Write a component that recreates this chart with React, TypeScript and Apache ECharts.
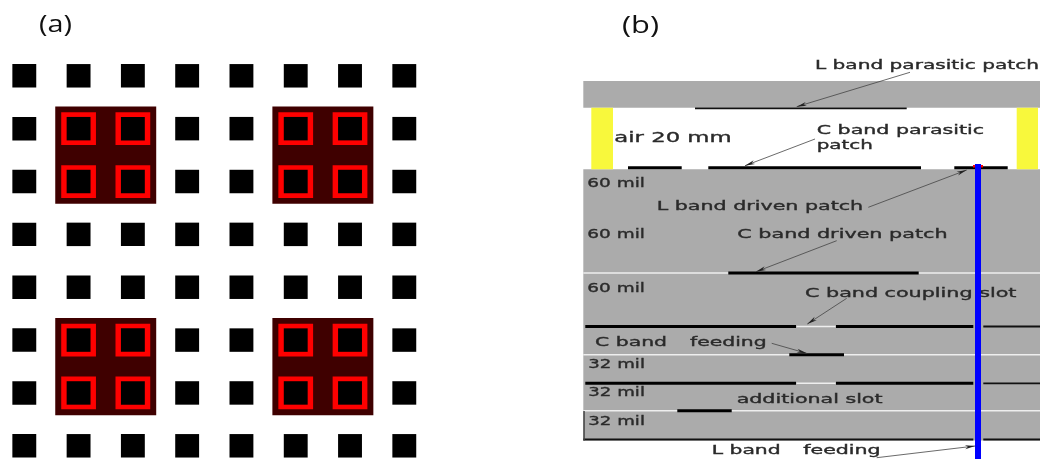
import React, { useEffect, useRef } from "react";
import * as echarts from "echarts";

// Panel (a): unit-cell indices of the periodic array
const columns = [0, 1, 2, 3, 4, 5, 6, 7];
const rows = [0, 1, 2, 3, 4, 5, 6, 7];
// [first column, last column, first row, last row]
const loadedPatches = [
  [1, 2, 1, 2],
  [5, 6, 1, 2],
  [1, 2, 5, 6],
  [5, 6, 5, 6],
];

// Panel (b): stack-up, in diagram units. Rect = [x0, y0, x1, y1]
const dielectricLayers = [
  [583.3, 81, 1040, 107.7],
  [583.3, 169.3, 1040, 440.5],
];
const foamPosts = [
  [591.3, 107.7, 613, 169.3],
  [1016.7, 107.7, 1038, 169.3],
];
// [x0, x1, y]
const interfaceLines = [
  [583.3, 1040, 273],
  [583.3, 1040, 354.7],
  [583.3, 1040, 410.7],
  [796.5, 835.5, 326.5],
  [796.5, 835.5, 383.3],
];
const metalLines = [
  [628, 681.7, 167.7],
  [708.3, 921, 167.7],
  [954.3, 1007.7, 167.7],
  [728.3, 918.7, 273],
  [585.3, 796, 326.5],
  [836, 973.3, 326.5],
  [789.3, 844, 354.7],
  [585.3, 796, 383.3],
  [836, 973.3, 383.3],
  [677.3, 731.7, 410.7],
];
const thinMetalLines = [
  [695, 906.7, 108.3],
  [983.3, 1040, 326.5],
  [983.3, 1040, 383.3],
  [583.3, 973.3, 439.5],
  [983.3, 1040, 439.5],
];
const substrateEdge = [[583.3, 411, 584.8, 440.5]];
const feedSolderDots = [[973, 165, 983, 167.5]];
const feedProbe = [[975, 164, 981, 459]];
// [x0, y0, x1, y1] from the label to the tip
const leaders = [
  [910, 72.3, 796.7, 106.7],
  [815, 139, 745, 165.7],
  [868.3, 207.3, 966.7, 170],
  [836.7, 240.7, 756, 271.7],
  [846.7, 298.3, 807.3, 324],
  [771.7, 343.3, 806.7, 353.3],
  [876.7, 457.7, 975, 446],
];
const labelTexts = [
  "L band parasitic patch",
  "C band parasitic",
  "patch",
  "60 mil",
  "L band driven patch",
  "60 mil",
  "C band driven patch",
  "60 mil",
  "C band coupling slot",
  "C band",
  "feeding",
  "32 mil",
  "32 mil",
  "additional slot",
  "32 mil",
  "L band",
  "feeding",
];
// [x, y, width] of each label above
const labelPlaces = [
  [815, 64.3, 224],
  [816.7, 129.3, 167.6],
  [816.7, 145, 56.3],
  [587.3, 182.7, 57.7],
  [656.7, 205.7, 206.6],
  [587.3, 233.3, 57.7],
  [737.3, 233.3, 210.4],
  [587.3, 287.3, 57.7],
  [805, 292.7, 211.7],
  [595, 341.7, 72],
  [690, 341.7, 76.7],
  [588.3, 363.7, 56.7],
  [588.3, 392.3, 56.7],
  [736.7, 398.7, 146],
  [588.3, 420.7, 56.7],
  [711.7, 450, 69],
  [803.3, 450, 77.4],
];
const largeText = ["air 20 mm"];
const largePlaces = [[614.3, 136.7, 117.4]];
const panelTitles = ["(a)", "(b)"];
const titlePlaces = [
  [39, 23, 33],
  [622, 23, 37],
];

const measure = document.createElement("canvas").getContext("2d")!;

function rectSeries(data: number[][], fill: string, axis = 1): any {
  return {
    type: "custom",
    xAxisIndex: axis,
    yAxisIndex: axis,
    silent: true,
    encode: { x: [0, 2], y: [1, 3] },
    data,
    renderItem: (_: any, api: any) => {
      const a = api.coord([api.value(0), api.value(1)]);
      const b = api.coord([api.value(2), api.value(3)]);
      return {
        type: "rect",
        shape: { x: a[0], y: a[1], width: b[0] - a[0], height: b[1] - a[1] },
        style: { fill },
      };
    },
  };
}

function lineSeries(data: number[][], color: string, thickness: number) {
  return rectSeries(
    data.map((d) => [d[0], d[2] - thickness / 2, d[1], d[2] + thickness / 2]),
    color,
  );
}

function cellRects(half: number, haly: number) {
  const out: number[][] = [];
  for (const r of rows) for (const c of columns) out.push([c - half, r - haly, c + half, r + haly]);
  return out;
}

function ringRects() {
  const out: number[][] = [];
  for (const p of loadedPatches)
    for (const r of [p[2], p[3]])
      for (const c of [p[0], p[1]]) out.push([c - 0.32, r - 0.31, c + 0.32, r + 0.31]);
  return out;
}

function textSeries(texts: string[], places: number[][], font: string, fill: string, strokeWidth: number): any {
  return {
    type: "custom",
    xAxisIndex: 1,
    yAxisIndex: 1,
    silent: true,
    encode: { x: 0, y: 1 },
    data: places,
    renderItem: (params: any, api: any) => {
      const p = api.coord([api.value(0), api.value(1)]);
      const text = texts[params.dataIndex];
      measure.font = font;
      return {
        type: "text",
        x: p[0],
        y: p[1],
        scaleX: api.value(2) / measure.measureText(text).width,
        style: {
          text,
          font,
          fill,
          stroke: strokeWidth ? fill : undefined,
          lineWidth: strokeWidth,
          align: "left",
          verticalAlign: "middle",
        },
      };
    },
  };
}

const arrowSeries: any = {
  type: "custom",
  xAxisIndex: 1,
  yAxisIndex: 1,
  silent: true,
  encode: { x: [0, 2], y: [1, 3] },
  data: leaders,
  renderItem: (_: any, api: any) => {
    const a = api.coord([api.value(0), api.value(1)]);
    const b = api.coord([api.value(2), api.value(3)]);
    const len = Math.hypot(b[0] - a[0], b[1] - a[1]);
    const ux = (b[0] - a[0]) / len;
    const uy = (b[1] - a[1]) / len;
    const bx = b[0] - ux * 10;
    const by = b[1] - uy * 10;
    return {
      type: "group",
      children: [
        {
          type: "line",
          shape: { x1: a[0], y1: a[1], x2: b[0], y2: b[1] },
          style: { stroke: "#444444", lineWidth: 0.8 },
        },
        {
          type: "polygon",
          shape: {
            points: [
              [b[0], b[1]],
              [bx - uy * 2, by + ux * 2],
              [b[0] - ux * 7, b[1] - uy * 7],
              [bx + uy * 2, by - ux * 2],
            ],
          },
          style: { fill: "#222222" },
        },
      ],
    };
  },
};

export default function App() {
  const ref = useRef<HTMLDivElement>(null);
  useEffect(() => {
    document.body.style.margin = "0";
    document.body.style.background = "#ffffff";
    const chart = echarts.init(ref.current!, undefined, { renderer: "svg" });
    const hidden = { type: "value", show: false };
    chart.setOption({
      animation: false,
      backgroundColor: "#ffffff",
      tooltip: { show: false },
      grid: [
        { left: 24.3, top: 75.8, width: 380, height: 370 },
        { left: 0, top: 0, width: 1040, height: 459 },
      ],
      xAxis: [
        { ...hidden, gridIndex: 0, min: 0, max: 7 },
        { ...hidden, gridIndex: 1, min: 0, max: 1040 },
      ],
      yAxis: [
        { ...hidden, gridIndex: 0, min: 0, max: 7, inverse: true },
        { ...hidden, gridIndex: 1, min: 0, max: 459, inverse: true },
      ],
      series: [
        rectSeries(
          loadedPatches.map((p) => [p[0] - 0.43, p[2] - 0.42, p[1] + 0.43, p[3] + 0.42]),
          "#3f0000",
          0,
        ),
        rectSeries(ringRects(), "#ff0000", 0),
        rectSeries(cellRects(0.22, 0.222), "#000000", 0),
        rectSeries(dielectricLayers, "#ababab"),
        rectSeries(foamPosts, "#f8f83c"),
        lineSeries(interfaceLines, "#eeeeee", 1.6),
        lineSeries(thinMetalLines, "#111111", 1.8),
        lineSeries(metalLines, "#000000", 3),
        rectSeries(substrateEdge, "#444444"),
        textSeries(labelTexts, labelPlaces, "12.5px 'DejaVu Sans'", "#2a2a2a", 0.35),
        textSeries(largeText, largePlaces, "14.5px 'DejaVu Sans'", "#2a2a2a", 0.35),
        textSeries(panelTitles, titlePlaces, "24px 'Open Sans'", "#111111", 0),
        arrowSeries,
        rectSeries(feedSolderDots, "#ff0000"),
        rectSeries(feedProbe, "#0000ff"),
      ],
    });
    return () => chart.dispose();
  }, []);
  return (
    <div
      ref={ref}
      style={{ position: "fixed", left: 0, top: 0, width: 1040, height: 459, filter: "blur(0.4px)" }}
    />
  );
}
